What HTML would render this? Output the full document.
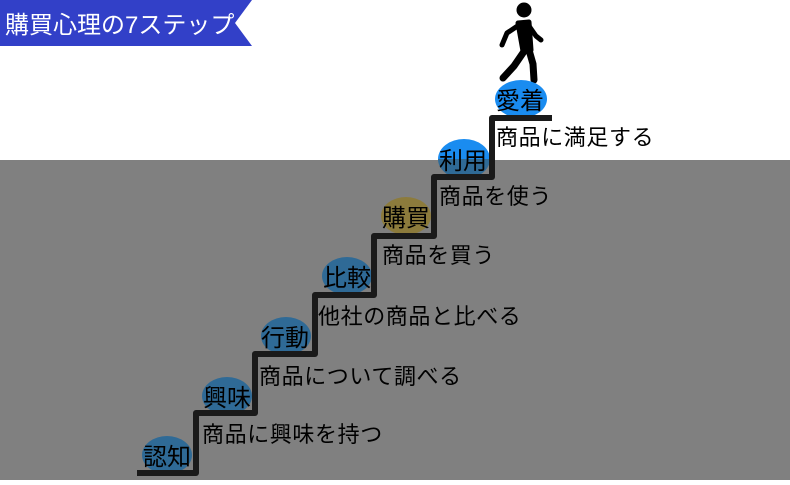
<!DOCTYPE html>
<html><head><meta charset="utf-8"><style>
body{margin:0}
svg text{font-family:"Liberation Sans","Noto Sans CJK JP",sans-serif}
</style></head><body>
<svg width="790" height="480" viewBox="0 0 790 480" xmlns="http://www.w3.org/2000/svg">
<defs>
<linearGradient id="ry" x1="0" y1="0" x2="0" y2="1" gradientUnits="objectBoundingBox">
<stop offset="0" stop-color="#1a8cf0"/><stop offset="0.5" stop-color="#1a8cf0"/><stop offset="0.5" stop-color="#2f6a96"/><stop offset="1" stop-color="#2f6a96"/>
</linearGradient>
</defs>
<rect width="790" height="480" fill="#fff"/>
<rect y="160" width="790" height="320" fill="#808080"/>
<polygon points="0,0 252,0 235,23 252,46 0,46" fill="#3240c8"/>
<text x="5" y="33" font-size="24" fill="#fff">購買心理の7ステップ</text>
<g fill="#000" stroke="#000" stroke-linecap="round" stroke-linejoin="round">
<circle cx="524" cy="10" r="7.5" stroke="none"/>
<path d="M518 23 L529 22 L531 50 L523 51 Z" stroke-width="5"/>
<path d="M519 25 L507 33 L502 45" fill="none" stroke-width="5"/>
<path d="M529 26 L536 36 L541 40" fill="none" stroke-width="5"/>
<path d="M525 50 L514 66 L503 78" fill="none" stroke-width="7"/>
<path d="M529 50 L533 64 L534 80" fill="none" stroke-width="7"/>
</g>
<ellipse cx="521" cy="99" rx="26" ry="19" fill="#1a8cf0"/>
<ellipse cx="464" cy="159" rx="26" ry="20" fill="url(#ry)"/>
<ellipse cx="406" cy="216" rx="25" ry="19" fill="#8c7b3c"/>
<ellipse cx="347" cy="276" rx="25" ry="19" fill="#2f6a96"/>
<ellipse cx="286" cy="336" rx="25" ry="19" fill="#2f6a96"/>
<ellipse cx="227" cy="396" rx="25" ry="19" fill="#2f6a96"/>
<ellipse cx="167" cy="455" rx="25" ry="19" fill="#2f6a96"/>
<polyline points="137,473 196,473 196,413 255,413 255,354 315,354 315,295 374,295 374,236 434,236 434,177 492,177 492,118 552,118" fill="none" stroke="#1a1a1a" stroke-width="6" stroke-linejoin="round"/>
<g font-size="24" fill="#000">
<text x="496" y="109">愛着</text>
<text x="439" y="169">利用</text>
<text x="382" y="226">購買</text>
<text x="323" y="286">比較</text>
<text x="261" y="346">行動</text>
<text x="203" y="406">興味</text>
<text x="143" y="465">認知</text>
</g>
<g font-size="22" fill="#000" letter-spacing="0.6">
<text x="496" y="145">商品に満足する</text>
<text x="439" y="204">商品を使う</text>
<text x="382" y="263">商品を買う</text>
<text x="318" y="324">他社の商品と比べる</text>
<text x="259" y="384">商品について調べる</text>
<text x="202" y="442">商品に興味を持つ</text>
</g>
</svg>
</body></html>
